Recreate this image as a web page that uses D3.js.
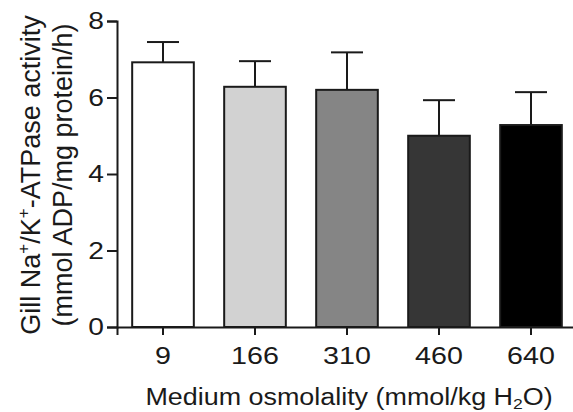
<!DOCTYPE html>
<html>
<head>
<meta charset="utf-8">
<script src="https://cdn.jsdelivr.net/npm/d3@7"></script>
<style>
  html, body { margin: 0; padding: 0; background: #fff; }
  svg { display: block; }
  text { font-family: "Liberation Sans", Arial, sans-serif; fill: #1a1a1a; }
</style>
</head>
<body>
<svg id="chart" width="573" height="412"></svg>
<script>
// Gill Na+/K+-ATPase activity by medium osmolality (mean + SE)
const categories = ["9", "166", "310", "460", "640"];
const means = [6.92, 6.28, 6.20, 5.00, 5.28];
const errors = [0.53, 0.67, 0.98, 0.93, 0.86];
const fills = ["#ffffff", "#d2d2d2", "#858585", "#363636", "#000000"];
const yTicks = [0, 2, 4, 6, 8];

const svg = d3.select("#chart");
const ink = "#1a1a1a";
const stretch = 1.17;   // horizontal text scale

const x = d3.scaleBand()
  .domain(categories)
  .range([117, 577])
  .paddingInner(0.33)
  .paddingOuter(0.165);

const y = d3.scaleLinear().domain([0, 8]).range([327, 21]);

// bars
svg.append("g").selectAll("rect")
  .data(categories)
  .join("rect")
  .attr("x", d => x(d))
  .attr("y", (d, i) => y(means[i]))
  .attr("width", x.bandwidth())
  .attr("height", (d, i) => y(0) - y(means[i]))
  .attr("fill", (d, i) => fills[i])
  .attr("stroke", ink)
  .attr("stroke-width", 2);

// error bars (upper only)
const eb = svg.append("g").attr("stroke", ink).attr("stroke-width", 2);
categories.forEach((c, i) => {
  const cx = x(c) + x.bandwidth() / 2;
  eb.append("line").attr("x1", cx).attr("x2", cx)
    .attr("y1", y(means[i])).attr("y2", y(means[i] + errors[i]));
  eb.append("line").attr("x1", cx - 16).attr("x2", cx + 16)
    .attr("y1", y(means[i] + errors[i])).attr("y2", y(means[i] + errors[i]));
});

// x axis
const xAxis = svg.append("g")
  .attr("transform", `translate(0,${y(0)})`)
  .call(d3.axisBottom(x).tickSizeOuter(0).tickSize(8).tickPadding(13));
xAxis.select(".domain").attr("stroke", ink).attr("stroke-width", 2);
xAxis.selectAll(".tick line").attr("stroke", ink).attr("stroke-width", 2);
xAxis.selectAll(".tick text")
  .attr("font-size", 23.5).attr("fill", ink)
  .attr("font-family", "Liberation Sans, Arial, sans-serif")
  .attr("dy", null)
  .attr("dominant-baseline", null)
  .attr("y", 37)
  .attr("transform", "scale(1.22,1)");

// y axis
const yAxis = svg.append("g")
  .attr("transform", `translate(117,0)`)
  .call(d3.axisLeft(y).tickValues(yTicks).tickSizeOuter(0).tickSize(10).tickPadding(3));
yAxis.select(".domain").attr("stroke", ink).attr("stroke-width", 2);
yAxis.selectAll(".tick line").attr("stroke", ink).attr("stroke-width", 2);
yAxis.selectAll(".tick text")
  .attr("font-size", 23.5).attr("fill", ink)
  .attr("font-family", "Liberation Sans, Arial, sans-serif")
  .attr("transform", `translate(-13,0) scale(1.2,1) translate(13,0)`);

// x axis title
const xt = svg.append("text")
  .attr("text-anchor", "middle")
  .attr("font-size", 23)
  .attr("transform", `translate(349,405) scale(${stretch},1)`);
xt.append("tspan").text("Medium osmolality (mmol/kg H");
xt.append("tspan").attr("font-size", 15).attr("dy", 4).text("2");
xt.append("tspan").attr("dy", -4).text("O)");

// y axis title (two lines)
const yt = svg.append("text")
  .attr("text-anchor", "middle")
  .attr("font-size", 27)
  .attr("transform", "translate(40,175) rotate(-90)");
yt.append("tspan").text("Gill Na");
yt.append("tspan").attr("font-size", 17).attr("dy", -11).text("+");
yt.append("tspan").attr("dy", 11).text("/K");
yt.append("tspan").attr("font-size", 17).attr("dy", -11).text("+");
yt.append("tspan").attr("dy", 11).text("-ATPase activity");

svg.append("text")
  .attr("text-anchor", "middle")
  .attr("font-size", 27)
  .attr("transform", "translate(72,175) rotate(-90)")
  .text("(mmol ADP/mg protein/h)");
</script>
</body>
</html>
